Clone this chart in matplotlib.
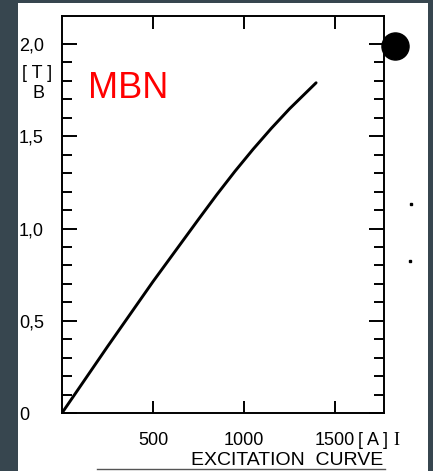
import matplotlib.pyplot as plt
from matplotlib.patches import Rectangle
from matplotlib.lines import Line2D
from matplotlib.ticker import FixedLocator

# excitation curve B(I)
current = [0, 250, 500, 750, 850, 950, 1050, 1150, 1250, 1396]
field = [0, 0.36, 0.7125, 1.05, 1.183, 1.31, 1.43, 1.543, 1.649, 1.79]

x_ticks = [500, 1000, 1500]
x_labels = ['500', '1000', '1500']
y_ticks = [0, 0.5, 1.0, 1.5, 2.0]
y_labels = ['0', '0,5', '1,0', '1,5', '2,0']
y_minor = [0.1, 0.2, 0.3, 0.4, 0.6, 0.7, 0.8, 0.9, 1.1, 1.2, 1.3, 1.4,
           1.6, 1.7, 1.8, 1.9]

W, H = 433, 471
plt.rcParams['font.family'] = ['Liberation Sans', 'DejaVu Sans']
fig = plt.figure(figsize=(W / 100, H / 100), dpi=100, facecolor='#37464f')

# white sheet
fig.patches.append(Rectangle((18 / W, 0), (428 - 18) / W, (H - 3) / H,
                             transform=fig.transFigure, facecolor='white',
                             edgecolor='none', zorder=-10))

ax = fig.add_axes([62 / W, (H - 413) / H, (384 - 62) / W, (413 - 16) / H])
ax.set_facecolor('white')
ax.plot(current, field, color='black', linewidth=2.1,
        solid_capstyle='round', solid_joinstyle='round')

ax.set_xlim(0, 1769)
ax.set_ylim(0, 2.152)

for s in ax.spines.values():
    s.set_linewidth(1.4)

ax.set_xticks(x_ticks)
ax.set_xticklabels(x_labels, fontsize=13)
ax.set_yticks(y_ticks)
ax.set_yticklabels(y_labels, fontsize=13, ha='left')
ax.yaxis.set_minor_locator(FixedLocator(y_minor))

ax.tick_params(axis='x', which='major', direction='in', top=True, bottom=True,
               length=9, width=1.4, pad=14)
ax.tick_params(axis='y', which='major', direction='in', left=True, right=True,
               length=11, width=1.4, pad=31)
ax.tick_params(axis='y', which='minor', direction='in', left=True, right=True,
               length=7, width=1.4)

# axis units
ax.annotate('[ T ]', xy=(0, 1.84), xycoords=('axes fraction', 'data'),
            xytext=(-18, 0), textcoords='offset points',
            ha='center', va='center', fontsize=13)
ax.annotate('B', xy=(0, 1.73), xycoords=('axes fraction', 'data'),
            xytext=(-17, 0), textcoords='offset points',
            ha='center', va='center', fontsize=13)
ax.annotate('[ A ]', xy=(1500, 0), xycoords='data',
            xytext=(16.5, -14), textcoords='offset points',
            ha='left', va='top', fontsize=13, annotation_clip=False)
ax.annotate('I', xy=(1500, 0), xycoords='data',
            xytext=(42, -14), textcoords='offset points',
            ha='left', va='top', fontsize=13, family='Liberation Serif',
            annotation_clip=False)

ax.text(0.2065, 0.7935, 'MBN', transform=ax.transAxes, color='#ff0000',
        fontsize=26, ha='center', va='baseline')

# blot and specks outside the right edge
ax.plot([1830], [1.99], 'o', color='black', markersize=19.5, clip_on=False)
ax.plot([1918, 1912], [1.133, 0.824], 's', color='black', markersize=1.6,
        clip_on=False)

fig.text(287 / W, (H - 465) / H, 'EXCITATION  CURVE', ha='center',
         va='baseline', fontsize=14)
fig.lines.append(Line2D([97 / W, 385 / W], [(H - 469) / H] * 2,
                        transform=fig.transFigure, color='#555555',
                        linewidth=1.0))

fig.savefig('out.png', dpi=100, facecolor=fig.get_facecolor())
